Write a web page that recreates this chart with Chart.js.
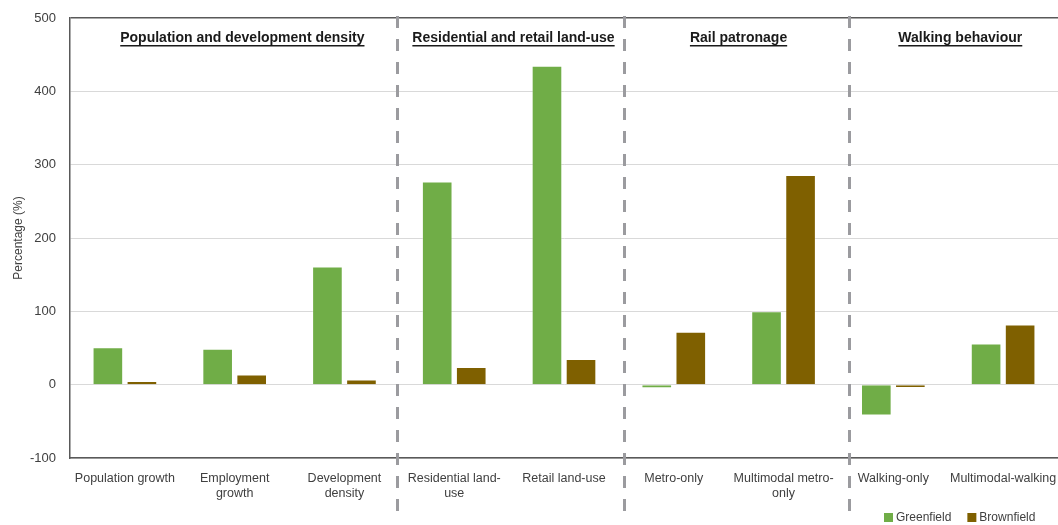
<!DOCTYPE html>
<html>
<head>
<meta charset="utf-8">
<script src="https://cdn.jsdelivr.net/npm/chart.js@4.4.1/dist/chart.umd.min.js"></script>
<style>
  html, body { margin: 0; padding: 0; background: #ffffff; }
  #wrap { width: 1058px; height: 525px; position: relative; }
</style>
</head>
<body>
<div id="wrap"><canvas id="c" width="1058" height="525"></canvas></div>
<script>
// ---- Data ----
const categories = [
  "Population growth",
  ["Employment", "growth"],
  ["Development", "density"],
  ["Residential land-", "use"],
  "Retail land-use",
  "Metro-only",
  ["Multimodal metro-", "only"],
  "Walking-only",
  "Multimodal-walking"
];
const greenfield = [51, 49, 161, 277, 435, -5, 100, -42, 56];
const brownfield = [5, 14, 7, 24, 35, 72, 286, -4.5, 82];
const seriesNames = ["Greenfield", "Brownfield"];
const yTicks = [-100, 0, 100, 200, 300, 400, 500];
const sectionTitles = [
  "Population and development density",
  "Residential and retail land-use",
  "Rail patronage",
  "Walking behaviour"
];

// ---- Decoration placement (category-scale units) ----
const sectionCenters = [1.07, 3.54, 5.59, 7.61];
const separatorsAt = [2.48, 4.55, 6.6];

const FONT = "'Liberation Sans Narrow', 'Arial Narrow', 'Liberation Sans', Arial, sans-serif";
const GREEN = "#70AD47";
const BROWN = "#7F6000";

const decor = {
  id: 'decor',
  afterDatasetsDraw(chart) {
    const ctx = chart.ctx;
    const xs = chart.scales.x;
    const ca = chart.chartArea;
    ctx.save();
    // dashed separators
    ctx.strokeStyle = '#9b9b9f';
    ctx.lineWidth = 3;
    ctx.setLineDash([12, 11]);
    separatorsAt.forEach(v => {
      const x = Math.round(xs.getPixelForValue(v)) + 0.5;
      ctx.beginPath();
      ctx.moveTo(x, ca.top - 2);
      ctx.lineTo(x, 512);
      ctx.stroke();
    });
    ctx.setLineDash([]);
    // section titles
    ctx.font = "bold 14px " + FONT;
    ctx.fillStyle = '#1a1a1a';
    ctx.textAlign = 'center';
    ctx.textBaseline = 'middle';
    sectionTitles.forEach((t, i) => {
      const cx = xs.getPixelForValue(sectionCenters[i]);
      const cy = ca.top + 20;
      ctx.fillText(t, cx, cy);
      const w = ctx.measureText(t).width;
      ctx.fillRect(cx - w / 2, cy + 7, w, 1.5);
    });
    // legend
    ctx.font = "12px " + FONT;
    ctx.textAlign = 'left';
    let lx = 884;
    const ly = 518;
    chart.data.datasets.forEach(ds => {
      ctx.fillStyle = ds.backgroundColor;
      ctx.fillRect(lx, ly - 5, 9, 9);
      ctx.fillStyle = '#404040';
      ctx.fillText(ds.label, lx + 12, ly);
      lx += 12 + ctx.measureText(ds.label).width + 16;
    });
    ctx.restore();
  }
};

new Chart(document.getElementById('c'), {
  type: 'bar',
  data: {
    labels: categories,
    datasets: [
      { label: seriesNames[0], data: greenfield, backgroundColor: GREEN,
        borderColor: 'rgba(255,255,255,0.3)', borderWidth: 1,
        categoryPercentage: 0.62, barPercentage: 0.9 },
      { label: seriesNames[1], data: brownfield, backgroundColor: BROWN,
        borderColor: 'rgba(255,255,255,0.25)', borderWidth: 1,
        categoryPercentage: 0.62, barPercentage: 0.9 }
    ]
  },
  options: {
    responsive: false,
    animation: false,
    devicePixelRatio: 1,
    layout: { padding: { top: 18, right: 0, bottom: 0, left: 0 } },
    plugins: {
      legend: { display: false },
      tooltip: { enabled: false }
    },
    scales: {
      x: {
        grid: { display: false, drawTicks: false },
        border: { display: true, color: '#595959', width: 1.5 },
        ticks: {
          color: '#404040',
          font: { family: FONT, size: 12.5 },
          padding: 13,
          maxRotation: 0,
          autoSkip: false
        },
        afterFit(scale) {
          scale.height = 67;
          scale.paddingLeft = 0;
          scale.paddingRight = 0;
        }
      },
      y: {
        min: -100,
        max: 500,
        afterBuildTicks(scale) { scale.ticks = yTicks.map(v => ({ value: v })); },
        grid: {
          color: ctx => (ctx.tick && ctx.tick.value === 500) ? '#595959' : '#d9d9d9',
          lineWidth: ctx => (ctx.tick && ctx.tick.value === 500) ? 1.5 : 1,
          drawTicks: false
        },
        border: { display: true, color: '#595959', width: 1.5 },
        ticks: {
          color: '#404040',
          font: { family: FONT, size: 13 },
          padding: 14
        },
        title: {
          display: true,
          text: 'Percentage (%)',
          color: '#404040',
          font: { family: FONT, size: 12 },
          padding: { top: 11, bottom: 0 }
        },
        afterFit(scale) {
          scale.width = 70;
          scale.paddingTop = 0;
          scale.paddingBottom = 0;
        }
      }
    }
  },
  plugins: [decor]
});
</script>
</body>
</html>
